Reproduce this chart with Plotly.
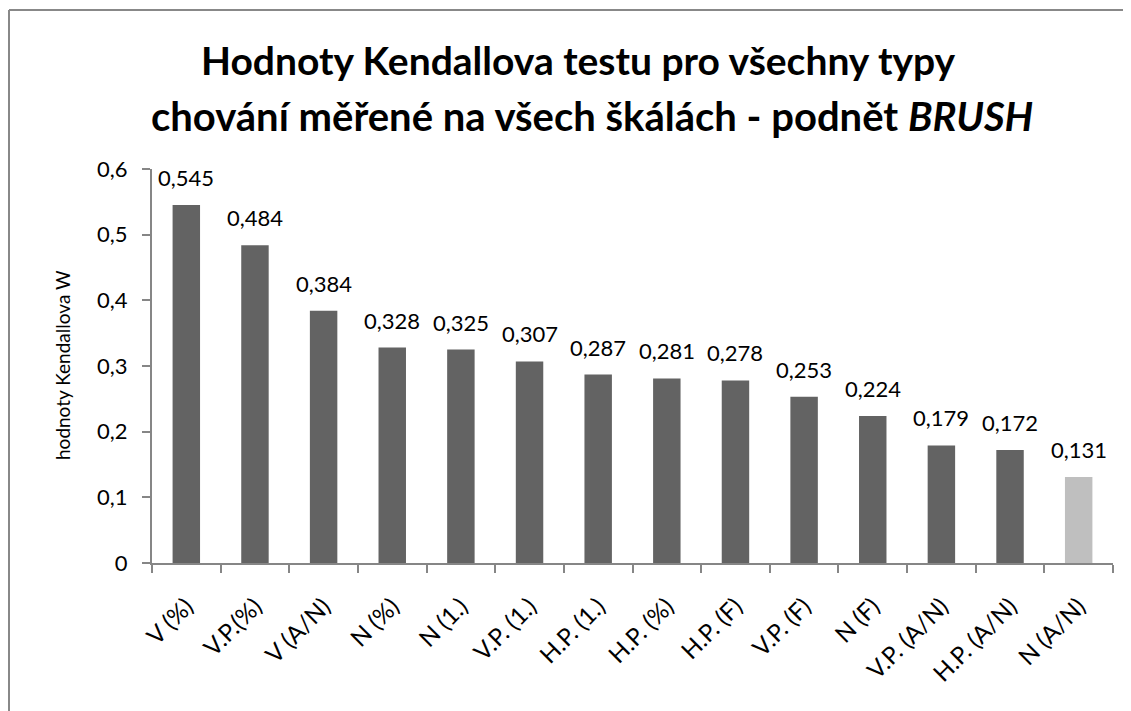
import plotly.graph_objects as go

categories = ["V (%)", "V.P.(%)", "V (A/N)", "N (%)", "N (1.)", "V.P. (1.)", "H.P. (1.)",
              "H.P. (%)", "H.P. (F)", "V.P. (F)", "N (F)", "V.P. (A/N)", "H.P. (A/N)", "N (A/N)"]
values = [0.545, 0.484, 0.384, 0.328, 0.325, 0.307, 0.287, 0.281, 0.278, 0.253, 0.224, 0.179, 0.172, 0.131]
bar_colors = ["#636363"] * 13 + ["#BFBFBF"]
y_ticks = [0, 0.1, 0.2, 0.3, 0.4, 0.5, 0.6]
title_lines = ["Hodnoty Kendallova testu pro všechny typy",
               "chování měřené na všech škálách - podnět <i>BRUSH</i>"]
y_title = "hodnoty Kendallova W"

FONT = "Lato, Open Sans, sans-serif"

fig = go.Figure(go.Bar(
    x=categories, y=values,
    marker=dict(color=bar_colors, line=dict(width=0)),
    hovertemplate="%{x}: %{y:.3f}<extra></extra>",
))

# page offset of 8px (body margin) taken into account
W, H = 1123, 703
L, R, T, B = 144, 18, 161, 148
pw, ph = W - L - R, H - T - B


def px_x(px):
    return (px - L) / pw


def px_y(py):
    return (H - B - py) / ph


data_labels = [
    dict(x=c, y=v, xref="x", yref="y", text=f"{v:.3f}".replace(".", ","),
         showarrow=False, xanchor="center", yanchor="bottom", yshift=12,
         font=dict(size=22, family=FONT, color="black"))
    for c, v in zip(categories, values)
]

fig.update_layout(
    width=W, height=H,
    separators=", ",
    paper_bgcolor="white", plot_bgcolor="white",
    margin=dict(l=L, r=R, t=T, b=B, autoexpand=False),
    bargap=0.6,
    showlegend=False,
    font=dict(family=FONT, color="black"),
    xaxis=dict(
        type="category", showgrid=False,
        showline=True, linecolor="#868686", linewidth=2,
        ticks="outside", tickson="boundaries", ticklen=8, tickcolor="#868686", tickwidth=2,
        tickangle=-45, tickfont=dict(size=24, family=FONT, color="black"),
        ticklabelstandoff=18,
    ),
    yaxis=dict(
        range=[0, 0.6], tickvals=y_ticks, showgrid=False, zeroline=False,
        showline=True, linecolor="#868686", linewidth=2,
        ticks="outside", ticklen=8, tickcolor="#868686", tickwidth=2,
        tickfont=dict(size=22, family=FONT, color="black"),
        ticklabelstandoff=10,
    ),
    annotations=data_labels + [
        dict(text=f"<b>{title_lines[0]}</b>", xref="paper", yref="paper",
             x=px_x(570), y=px_y(52), xanchor="center", yanchor="middle", showarrow=False,
             font=dict(size=39, family=FONT, color="black")),
        dict(text=f"<b>{title_lines[1]}</b>", xref="paper", yref="paper",
             x=px_x(584), y=px_y(108), xanchor="center", yanchor="middle", showarrow=False,
             font=dict(size=40, family=FONT, color="black")),
        dict(text=y_title, xref="paper", yref="paper", textangle=-90,
             x=px_x(54), y=px_y(357), xanchor="center", yanchor="middle", showarrow=False,
             font=dict(size=19, family=FONT, color="black")),
    ],
    shapes=[
        dict(type="line", xref="paper", yref="paper", x0=px_x(1), x1=px_x(1), y0=-1, y1=px_y(2),
             line=dict(color="#888888", width=2)),
        dict(type="line", xref="paper", yref="paper", x0=px_x(1), x1=1.5, y0=px_y(2), y1=px_y(2),
             line=dict(color="#888888", width=2)),
    ],
)

fig.write_html("out.html")
